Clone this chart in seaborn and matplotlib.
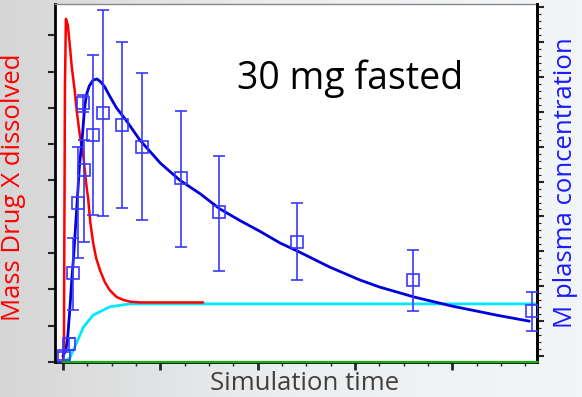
import numpy as np
import matplotlib
matplotlib.use("Agg")
import matplotlib.pyplot as plt
import seaborn as sns
from matplotlib.ticker import MultipleLocator, NullFormatter

# --- data (x in major-tick units) ---
# dissolved mass (left axis)
red_t = [0.0, 0.01, 0.02, 0.02, 0.02, 0.03, 0.05, 0.07, 0.09, 0.12, 0.14, 0.17, 0.21,
         0.24, 0.26, 0.28, 0.31, 0.34, 0.38, 0.43, 0.48, 0.55, 0.62, 0.69, 0.79, 1.44]
red_y = [0.0, 0.61, 4.46, 8.87, 9.37, 9.45, 9.28, 8.73, 8.13, 7.49, 6.94, 6.31, 5.65,
         4.88, 4.46, 3.86, 3.28, 2.87, 2.53, 2.20, 1.98, 1.79, 1.71, 1.66, 1.64, 1.64]

cyan_t = [0.0, 0.07, 0.13, 0.21, 0.31, 0.48, 0.69, 1.0, 2.0, 3.0, 4.0, 4.88]
cyan_y = [0.0, 0.11, 0.47, 0.96, 1.29, 1.52, 1.60, 1.60, 1.60, 1.60, 1.60, 1.60]

green_t = [0.0, 4.88]
green_y = [0.0, 0.0]

# simulated plasma concentration (right axis)
sim_t = [0.0, 0.03, 0.05, 0.07, 0.09, 0.11, 0.13, 0.15, 0.17, 0.20, 0.22, 0.24, 0.27,
         0.31, 0.35, 0.39, 0.43, 0.48, 0.55, 0.64, 0.79, 1.00, 1.20, 1.41, 1.61, 1.82,
         2.02, 2.23, 2.43, 2.74, 3.05, 3.25, 3.61, 4.00, 4.46, 4.79]
sim_c = [0.0, 0.17, 0.60, 1.32, 2.18, 2.89, 3.75, 4.61, 5.47, 6.33, 7.05, 7.48, 7.74,
         7.91, 7.94, 7.85, 7.71, 7.45, 7.11, 6.79, 6.19, 5.53, 5.04, 4.65, 4.22, 3.88,
         3.58, 3.24, 2.98, 2.55, 2.18, 1.98, 1.69, 1.43, 1.17, 1.00]

# observed plasma concentration with error bars
obs_t = [0.01, 0.06, 0.10, 0.15, 0.21, 0.22, 0.31, 0.41, 0.61, 0.81, 1.21, 1.60, 2.40, 3.60, 4.82]
obs_c = [0.0, 0.34, 2.38, 4.38, 7.25, 5.33, 6.33, 6.96, 6.62, 5.99, 5.10, 4.13, 3.27, 2.18, 1.29]
obs_hi = [0.11, 0.52, 3.38, 5.99, 7.48, 6.19, 8.62, 9.91, 9.00, 8.11, 7.02, 5.73, 4.38, 3.04, 1.83]
obs_lo = [-0.11, 0.17, 1.32, 2.81, 6.99, 3.27, 4.04, 4.01, 4.24, 3.90, 3.12, 2.44, 2.18, 1.29, 0.72]

sns.set_style("white")
plt.rcParams['font.family'] = ['Open Sans', 'DejaVu Sans']

fig, ax = plt.subplots(figsize=(5.82, 3.97), dpi=100)
fig.subplots_adjust(left=0.0945, right=0.9227, bottom=0.0882, top=0.99)

# slide-like background
bg = fig.add_axes([0, 0, 1, 1], zorder=-10)
grad = np.linspace(0, 1, 256)[None, :]
bg.imshow(grad, aspect="auto", cmap=matplotlib.colors.LinearSegmentedColormap.from_list(
    "bg", ["#d6d6d6", "#eceef0", "#f3f6f8"]), extent=[0, 1, 0, 1])
bg.axis("off")
fig.patch.set_facecolor("#e8e8e8")
ax.set_facecolor("white")

sns.lineplot(x=cyan_t, y=cyan_y, ax=ax, color="#00e8ff", lw=2, sort=False, zorder=4)
sns.lineplot(x=red_t, y=red_y, ax=ax, color="#ff0000", lw=1.8, sort=False, zorder=5)
ax.set_xlim(-0.082, 4.87)
ax.set_ylim(0, 9.86)

ax2 = ax.twinx()
sns.lineplot(x=sim_t, y=sim_c, ax=ax2, color="#0000dd", lw=2, sort=False, zorder=5)
obs_c_arr = np.array(obs_c)
yerr = [obs_c_arr - np.array(obs_lo), np.array(obs_hi) - obs_c_arr]
ax2.errorbar(obs_t, obs_c, yerr=yerr, fmt="s", ms=8, mfc="none", mec="#3838ff",
             mew=1.2, ecolor="#3838ff", elinewidth=1.2, capsize=4, capthick=1.2, zorder=6)
ax2.set_ylim(-0.17, 10.09)

# green zero line sits on top of the bottom spine
ax2.plot(green_t, np.array(green_y) - 0.17 + 0.0, color="#10b010", lw=1.6,
         clip_on=False, zorder=10)

# ticks
ax.xaxis.set_major_locator(MultipleLocator(1))
ax.xaxis.set_minor_locator(MultipleLocator(0.25))
ax.yaxis.set_major_locator(MultipleLocator(1))
ax2.yaxis.set_major_locator(MultipleLocator(1))
ax2.yaxis.set_minor_locator(MultipleLocator(0.2))
for a in (ax, ax2):
    a.xaxis.set_major_formatter(NullFormatter())
    a.yaxis.set_major_formatter(NullFormatter())
ax.tick_params(axis="x", which="major", direction="out", length=6, width=2, bottom=True)
ax.tick_params(axis="x", which="minor", direction="out", length=3, width=1, bottom=True)
ax.tick_params(axis="y", which="major", direction="out", length=5, width=1.5, left=True)
ax2.tick_params(axis="y", which="major", direction="out", length=5, width=1.5, right=True)
ax2.tick_params(axis="y", which="minor", direction="out", length=3, width=0.8, right=True)

for side in ("left", "right", "bottom"):
    ax.spines[side].set_color("black")
    ax.spines[side].set_linewidth(2)
ax.spines["top"].set_color("#888888")
ax.spines["top"].set_linewidth(1)
ax2.spines["right"].set_color("black")
ax2.spines["right"].set_linewidth(2)
for side in ("left", "bottom", "top"):
    ax2.spines[side].set_visible(False)

fig.text(0.524, 0.035, "Simulation time", fontsize=18.5, color="#404040",
         ha="center", va="center")
fig.text(0.024, 0.529, "Mass Drug X dissolved", fontsize=18.5, color="#ff0000",
         rotation=90, ha="center", va="center")
fig.text(0.971, 0.539, "M plasma concentration", fontsize=18.5, color="#1a1aff",
         rotation=90, ha="center", va="center")

ax.text(0.612, 0.79, "30 mg fasted", transform=ax.transAxes, fontsize=27,
        ha="center", va="center", color="black")

fig.savefig("out.png", dpi=100, facecolor=fig.get_facecolor())
